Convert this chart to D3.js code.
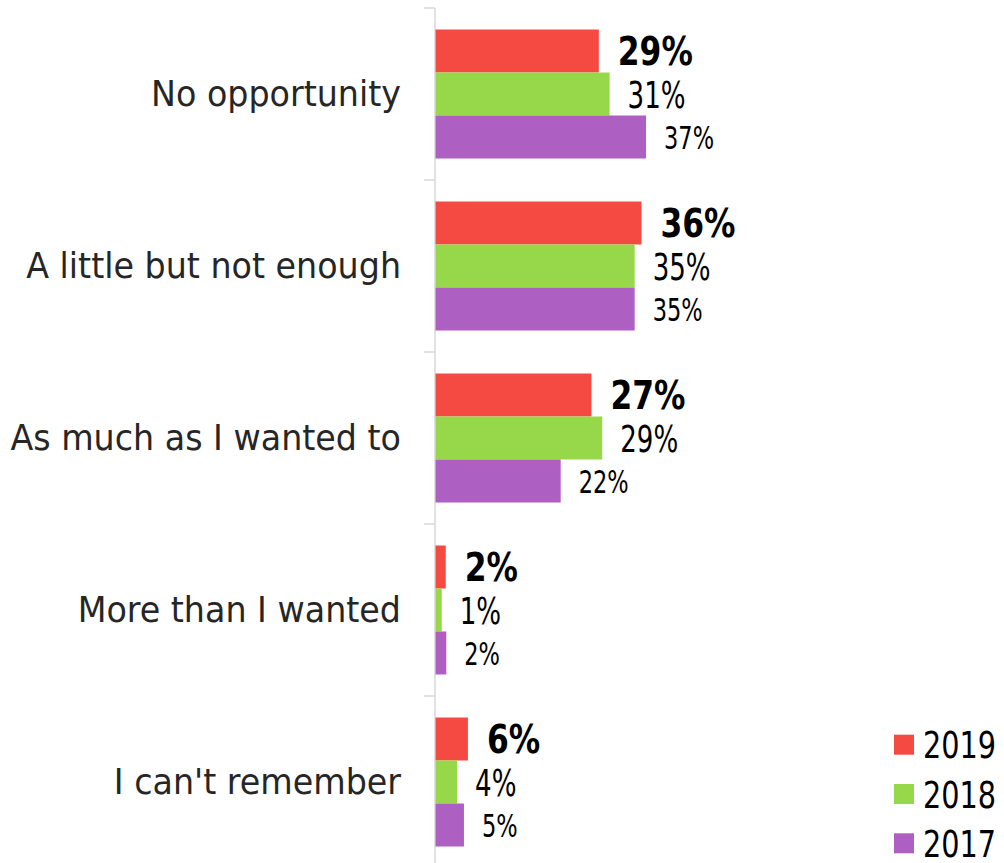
<!DOCTYPE html>
<html>
<head>
<meta charset="utf-8">
<script src="https://cdn.jsdelivr.net/npm/d3@7"></script>
<style>
  html, body { margin: 0; padding: 0; background: #fff; }
  svg { display: block; }
  text { font-family: "DejaVu Sans", sans-serif; font-stretch: condensed; }
</style>
</head>
<body>
<svg id="chart" width="1004" height="863"></svg>
<script>
// ---- data ----
const categories = ["No opportunity", "A little but not enough", "As much as I wanted to", "More than I wanted", "I can't remember"];
const seriesNames = ["2019", "2018", "2017"];
const values2019 = [28.7, 36.2, 27.4, 1.8, 5.7];
const values2018 = [30.6, 35.0, 29.3, 1.1, 3.8];
const values2017 = [37.0, 35.0, 22.0, 1.9, 5.0];
const seriesValues = [values2019, values2018, values2017];
const colors = ["#F44A41", "#97D84A", "#AE5FC2"];

const svg = d3.select("#chart");

const x = d3.scaleLinear().domain([0, 40]).range([435.5, 435.5 + 227.6]);
const y0 = d3.scaleBand().domain(categories).range([8, 868]).padding(0);
const y1 = d3.scaleBand().domain(seriesNames).range([0, y0.bandwidth()]).paddingInner(0).paddingOuter(0.5);

function measure(str, size, weight) {
  const t = svg.append("text").attr("font-size", size).attr("font-weight", weight).text(str);
  const w = t.node().getComputedTextLength();
  t.remove();
  return w;
}

// label styles per series
const labelStyle = [
  { size: 38.7, weight: "bold", ref: "36%", refW: 75, gap: 19 },
  { size: 37, weight: "normal", ref: "35%", refW: 58, gap: 18 },
  { size: 31.3, weight: "normal", ref: "35%", refW: 50, gap: 18 }
];
labelStyle.forEach(s => { s.sx = s.refW / measure(s.ref, s.size, s.weight); });

// axis line and ticks
const axisX = 435;
svg.append("line")
  .attr("x1", axisX).attr("x2", axisX)
  .attr("y1", y0.range()[0]).attr("y2", y0.range()[1])
  .attr("stroke", "#d9d9d9").attr("stroke-width", 1.5);
const boundaries = categories.map(c => y0(c)).concat([y0(categories[categories.length - 1]) + y0.bandwidth()]);
svg.selectAll("line.tick").data(boundaries).join("line")
  .attr("class", "tick")
  .attr("x1", axisX - 11).attr("x2", axisX)
  .attr("y1", d => d).attr("y2", d => d)
  .attr("stroke", "#d9d9d9").attr("stroke-width", 1.5);

// category labels
const catSize = 36;
const catSx = 250 / measure(categories[0], catSize, "normal");
svg.selectAll("text.cat").data(categories).join("text")
  .attr("class", "cat")
  .attr("text-anchor", "end")
  .attr("font-size", catSize)
  .attr("fill", "#262626")
  .attr("dy", "0.33em")
  .attr("transform", d => `translate(401,${y0(d) + y0.bandwidth() / 2}) scale(${catSx},1)`)
  .text(d => d);

// bars
const barData = [];
categories.forEach((c, i) => {
  seriesNames.forEach((s, j) => {
    barData.push({ cat: c, series: s, si: j, value: seriesValues[j][i] });
  });
});

svg.selectAll("rect.bar").data(barData).join("rect")
  .attr("class", "bar")
  .attr("x", x(0))
  .attr("y", d => y0(d.cat) + y1(d.series))
  .attr("width", d => x(d.value) - x(0))
  .attr("height", y1.bandwidth())
  .attr("fill", d => colors[d.si]);

// value labels
svg.selectAll("text.val").data(barData).join("text")
  .attr("class", "val")
  .attr("font-size", d => labelStyle[d.si].size)
  .attr("font-weight", d => labelStyle[d.si].weight)
  .attr("fill", "#000")
  .attr("dy", "0.37em")
  .attr("transform", d => `translate(${x(d.value) + labelStyle[d.si].gap},${y0(d.cat) + y1(d.series) + y1.bandwidth() / 2}) scale(${labelStyle[d.si].sx},1)`)
  .text(d => d3.format(".0f")(d.value) + "%");

// legend
const legSize = 36.6;
const legSx = 73 / measure("2019", legSize, "normal");
const leg = svg.selectAll("g.leg").data(seriesNames).join("g")
  .attr("class", "leg")
  .attr("transform", (d, i) => `translate(894,${734.7 + i * 49.3})`);
leg.append("rect").attr("width", 20).attr("height", 20).attr("fill", (d, i) => colors[i]);
leg.append("text")
  .attr("font-size", legSize)
  .attr("fill", "#000")
  .attr("dy", "0.37em")
  .attr("transform", `translate(29,10) scale(${legSx},1)`)
  .text(d => d);
</script>
</body>
</html>
